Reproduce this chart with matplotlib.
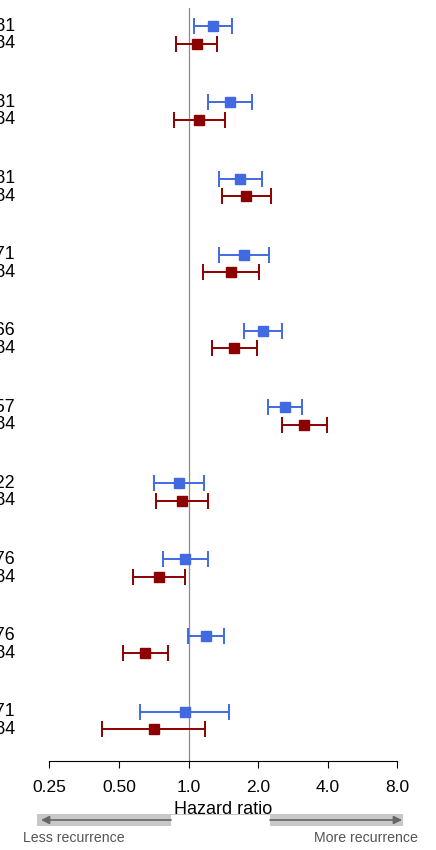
import matplotlib
matplotlib.use("Agg")
import matplotlib.pyplot as plt
import matplotlib.transforms as mtransforms
from matplotlib.patches import Rectangle, FancyArrowPatch
import numpy as np

plt.rcParams['font.family'] = ['Liberation Sans', 'DejaVu Sans']

# Hazard ratios with 95% confidence intervals, one pair of estimates per model
blue_hr = [1.28, 1.51, 1.67, 1.74, 2.09, 2.61, 0.91, 0.966, 1.19, 0.963]
blue_lo = [1.06, 1.21, 1.35, 1.36, 1.73, 2.21, 0.711, 0.773, 0.992, 0.617]
blue_hi = [1.54, 1.88, 2.07, 2.23, 2.53, 3.11, 1.17, 1.21, 1.42, 1.50]

red_hr = [1.085, 1.11, 1.77, 1.53, 1.58, 3.17, 0.934, 0.743, 0.65, 0.707]
red_lo = [0.883, 0.866, 1.39, 1.16, 1.26, 2.55, 0.723, 0.575, 0.519, 0.422]
red_hi = [1.33, 1.44, 2.27, 2.01, 1.98, 3.96, 1.21, 0.963, 0.815, 1.18]

blue_n = ["n = 1181", "n = 1181", "n = 1181", "n = 971", "n = 866",
          "n = 757", "n = 522", "n = 476", "n = 276", "n = 171"]
red_n = ["n = 1184"] * 10

tick_values = [0.25, 0.5, 1.0, 2.0, 4.0, 8.0]
tick_labels = ["0.25", "0.50", "1.0", "2.0", "4.0", "8.0"]

W, H = 436, 850
fig = plt.figure(figsize=(W / 100, H / 100), dpi=100)


def fx(px):
    return px / W


def fy(py):
    return 1 - py / H


ax_left, ax_right, ax_top, ax_bottom = 49.3, 397.3, 8, 761
ax = fig.add_axes([fx(ax_left), fy(ax_bottom), fx(ax_right - ax_left),
                   (ax_bottom - ax_top) / H])

n = len(blue_hr)
idx = np.arange(n)
off = 0.115
yb = idx - off
yr = idx + off

blue = "#4169E1"
red = "#8B0000"

ax.axvline(1.0, color="#8a8a8a", lw=0.9, zorder=1)

for y, hr, lo, hi, c in [(yb, blue_hr, blue_lo, blue_hi, blue),
                         (yr, red_hr, red_lo, red_hi, red)]:
    hr = np.array(hr)
    err = np.vstack([hr - np.array(lo), np.array(hi) - hr])
    ax.errorbar(hr, y, xerr=err, fmt="s", color=c, ms=7.4, mec=c,
                elinewidth=1.4, capsize=5.5, capthick=1.4, zorder=3)

ax.set_xscale("log", base=2)
ax.set_xlim(0.25, 8)
ax.set_ylim(9.53, -0.354)
ax.set_xticks(tick_values)
ax.set_xticklabels(tick_labels)
ax.minorticks_off()
ax.set_yticks([])
for s in ["top", "right", "left"]:
    ax.spines[s].set_visible(False)
ax.spines["bottom"].set_linewidth(0.8)
ax.tick_params(axis="x", length=5, width=0.8, pad=9, labelsize=12.5)

# sample-size labels at the left margin
label_tr = mtransforms.blended_transform_factory(fig.transFigure, ax.transData)
for i in range(n):
    for y, lab in [(yb[i], blue_n[i]), (yr[i], red_n[i])]:
        fig.text(fx(15), y, lab, transform=label_tr, ha="right", va="center",
                 fontsize=12.8)

# direction bar beneath the axis
fig.add_artist(Rectangle((fx(37), fy(826)), fx(403 - 37), (826 - 814) / H,
                         transform=fig.transFigure, facecolor="#c8c8c8",
                         edgecolor="none", zorder=1))
fig.add_artist(Rectangle((fx(171), fy(826)), fx(270 - 171), (826 - 815) / H,
                         transform=fig.transFigure, facecolor="white",
                         edgecolor="none", zorder=2))
for x0, x1 in [(171, 41), (270, 402)]:
    fig.add_artist(FancyArrowPatch((fx(x0), fy(820)), (fx(x1), fy(820)),
                                   transform=fig.transFigure, arrowstyle="-|>",
                                   mutation_scale=12, color="#666666", lw=1.2,
                                   shrinkA=0, shrinkB=0, zorder=3))

fig.text(fx(223.3), fy(809), "Hazard ratio", ha="center", va="center",
         fontsize=13, zorder=4)
fig.text(fx(23), fy(838), "Less recurrence", ha="left", va="center",
         fontsize=10.2, color="#555555")
fig.text(fx(418), fy(838), "More recurrence", ha="right", va="center",
         fontsize=10.2, color="#555555")

fig.savefig("out.png", dpi=100)
